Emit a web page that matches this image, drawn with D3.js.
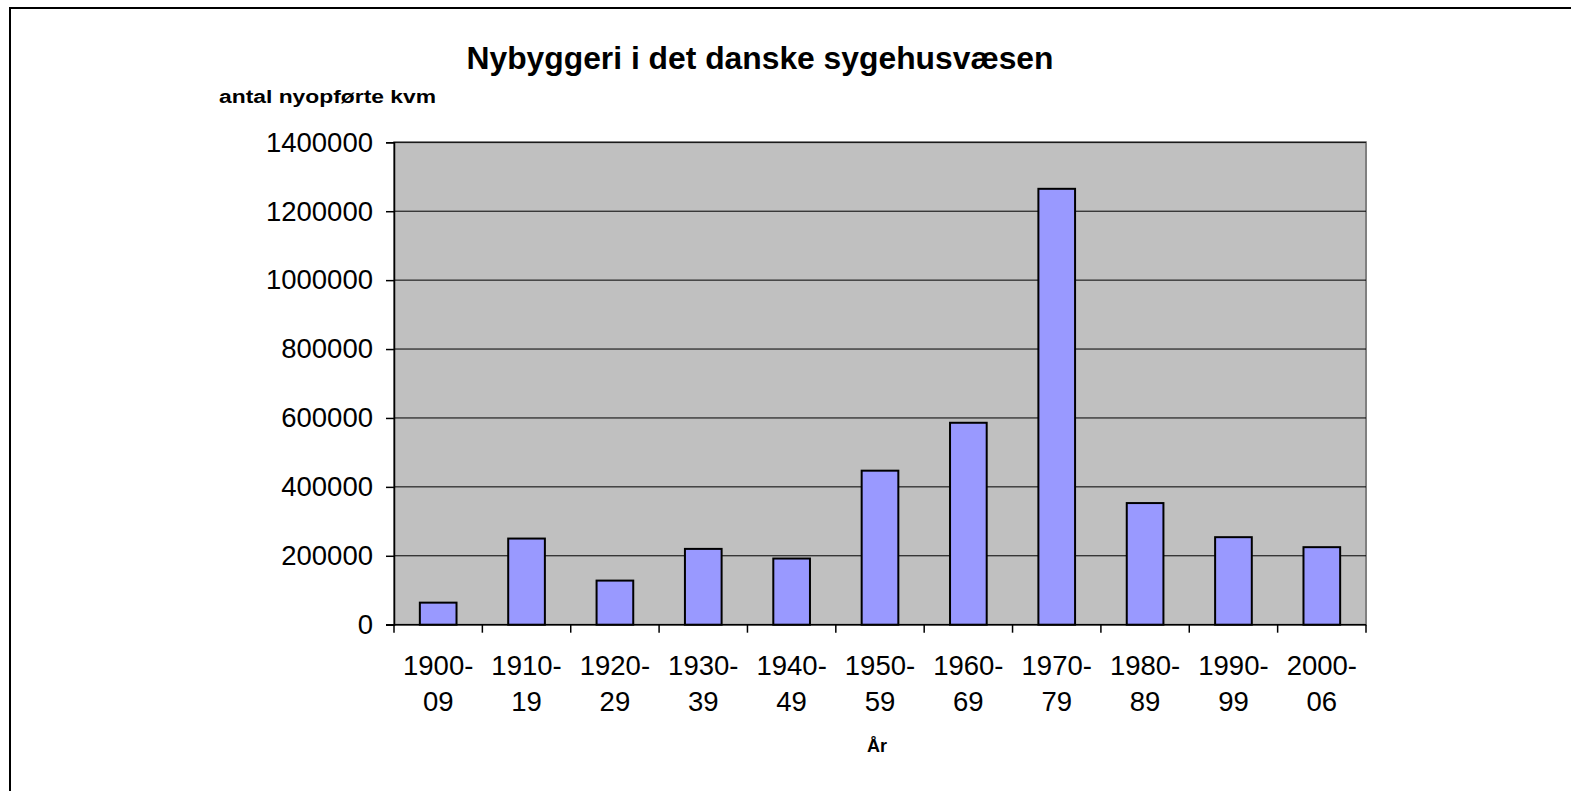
<!DOCTYPE html>
<html>
<head>
<meta charset="utf-8">
<script src="https://cdn.jsdelivr.net/npm/d3@7"></script>
<style>
  body { margin: 0; background: #fff; }
  svg { display: block; font-family: Arial, "Liberation Sans", sans-serif; }
</style>
</head>
<body>
<svg width="1571" height="791"></svg>
<script>
// decades and new-built square metres
const periods = ["1900-09", "1910-19", "1920-29", "1930-39", "1940-49", "1950-59",
                 "1960-69", "1970-79", "1980-89", "1990-99", "2000-06"];
const kvm = [64000, 250000, 128000, 220000, 192000, 447000, 586000, 1265000, 353000, 254000, 225000];
const yTicks = [0, 200000, 400000, 600000, 800000, 1000000, 1200000, 1400000];

const svg = d3.select("svg");

// outer chart frame (only left/top edges fall inside the window)
svg.append("rect")
  .attr("x", 10).attr("y", 8)
  .attr("width", 1600).attr("height", 900)
  .attr("fill", "none").attr("stroke", "#000").attr("stroke-width", 2);

const plotL = 394, plotR = 1366, plotT = 142.3, plotB = 624.7;

const x = d3.scaleBand()
  .domain(periods)
  .range([plotL, plotR])
  .paddingInner(0.585)
  .paddingOuter(0.2925);

const y = d3.scaleLinear().domain([0, 1400000]).range([plotB, plotT]);

// plot background
svg.append("rect")
  .attr("x", plotL).attr("y", plotT)
  .attr("width", plotR - plotL).attr("height", plotB - plotT)
  .attr("fill", "#c0c0c0")
  .attr("stroke", "#808080").attr("stroke-width", 2);

// gridlines
svg.append("g")
  .selectAll("line")
  .data(yTicks.slice(1))
  .join("line")
  .attr("x1", plotL).attr("x2", plotR)
  .attr("y1", d => y(d)).attr("y2", d => y(d))
  .attr("stroke", "#000").attr("stroke-width", 1);

// bars
svg.append("g")
  .selectAll("rect")
  .data(kvm)
  .join("rect")
  .attr("x", (d, i) => x(periods[i]))
  .attr("y", d => y(d))
  .attr("width", x.bandwidth())
  .attr("height", d => plotB - y(d))
  .attr("fill", "#9999ff")
  .attr("stroke", "#000").attr("stroke-width", 2);

// y axis
const yAxis = d3.axisLeft(y).tickValues(yTicks).tickSize(8).tickPadding(13).tickFormat(d3.format("d"));
const gy = svg.append("g").attr("transform", `translate(${plotL},0)`).call(yAxis);
gy.select(".domain").attr("stroke", "#000").attr("stroke-width", 1.5);
gy.selectAll(".tick line").attr("stroke", "#000").attr("stroke-width", 1.5);
gy.selectAll(".tick text").attr("font-size", 27.5).attr("fill", "#000")
  .attr("font-family", "Arial, 'Liberation Sans', sans-serif");

// x axis line and ticks at category boundaries
svg.append("line")
  .attr("x1", plotL - 8).attr("x2", plotR)
  .attr("y1", plotB).attr("y2", plotB)
  .attr("stroke", "#000").attr("stroke-width", 1.5);
const step = x.step();
svg.append("g")
  .selectAll("line")
  .data(d3.range(periods.length + 1))
  .join("line")
  .attr("x1", i => plotL + i * step).attr("x2", i => plotL + i * step)
  .attr("y1", plotB).attr("y2", plotB + 8)
  .attr("stroke", "#000").attr("stroke-width", 1.5);

// category labels on two lines
const xl = svg.append("g")
  .selectAll("text")
  .data(periods)
  .join("text")
  .attr("text-anchor", "middle")
  .attr("font-size", 27.5)
  .attr("fill", "#000");
xl.append("tspan")
  .attr("x", d => x(d) + x.bandwidth() / 2)
  .attr("y", 675)
  .text(d => d.slice(0, 5));
xl.append("tspan")
  .attr("x", d => x(d) + x.bandwidth() / 2)
  .attr("y", 710.5)
  .text(d => d.slice(5));

// titles
svg.append("text")
  .attr("x", 760).attr("y", 69)
  .attr("text-anchor", "middle")
  .attr("font-size", 31).attr("font-weight", "bold")
  .attr("textLength", 587).attr("lengthAdjust", "spacingAndGlyphs")
  .text("Nybyggeri i det danske sygehusvæsen");

svg.append("text")
  .attr("x", 219).attr("y", 103)
  .attr("font-size", 18).attr("font-weight", "bold")
  .attr("textLength", 217).attr("lengthAdjust", "spacingAndGlyphs")
  .text("antal nyopførte kvm");

svg.append("text")
  .attr("x", 877).attr("y", 752)
  .attr("text-anchor", "middle")
  .attr("font-size", 18).attr("font-weight", "bold")
  .text("År");
</script>
</body>
</html>
